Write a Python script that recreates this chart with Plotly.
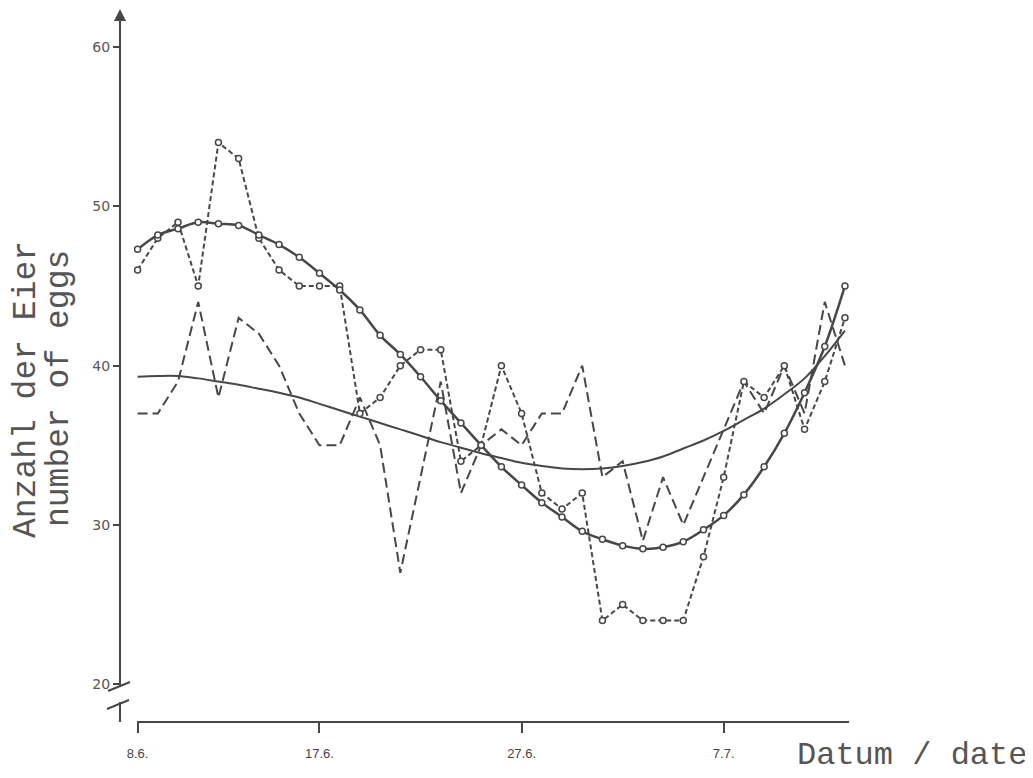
import plotly.graph_objects as go

# days since 8 June
days = list(range(36))

# observed egg numbers, series A (short dashes with circles)
eggs_a = [46, 48, 49, 45, 54, 53, 48, 46, 45, 45, 45, 37, 38, 40, 41, 41, 34, 35,
          40, 37, 32, 31, 32, 24, 25, 24, 24, 24, 28, 33, 39, 38, 40, 36, 39, 43]

# observed egg numbers, series B (long dashes)
eggs_b = [37, 37, 39, 44, 38, 43, 42, 40, 37, 35, 35, 38, 35, 27, 33, 39, 32, 35,
          36, 35, 37, 37, 40, 33, 34, 29, 33, 30, 33, 36, 39, 37, 40, 37, 44, 40]

# fitted curve for A (solid with circles)
fit_a = [47.3, 48.2, 48.6, 49.0, 48.9, 48.8, 48.2, 47.6, 46.8, 45.8, 44.75, 43.5,
         41.9, 40.7, 39.3, 37.8, 36.4, 35.0, 33.65, 32.5, 31.4, 30.5, 29.6, 29.1,
         28.7, 28.5, 28.6, 28.95, 29.7, 30.6, 31.9, 33.65, 35.75, 38.3, 41.2, 45.0]

# fitted curve for B (thin solid)
fit_b = [39.3, 39.35, 39.35, 39.2, 39.0, 38.8, 38.55, 38.3, 38.0, 37.6, 37.2, 36.8,
         36.4, 36.0, 35.6, 35.2, 34.85, 34.5, 34.2, 33.9, 33.7, 33.55, 33.5, 33.55,
         33.7, 33.95, 34.3, 34.8, 35.3, 35.9, 36.6, 37.3, 38.2, 39.2, 40.6, 42.2]

x_tick_vals = [0, 9, 19, 29]
x_tick_text = ["8.6.", "17.6.", "27.6.", "7.7."]
y_tick_vals = [20, 30, 40, 50, 60]
y_tick_text = ["20", "30", "40", "50", "60"]

INK = "#474747"
TEXT = "#555555"

OFF = 8  # page body margin
W, H = 1025, 770
# plot area in figure pixels
L, R, T, B = 120 - OFF, 849 - OFF, 8 - OFF, 722 - OFF


def px(xr):
    """reference-picture x pixel -> paper x"""
    return (xr - OFF - L) / (R - L)


def py(yr):
    """reference-picture y pixel -> paper y"""
    return (B - (yr - OFF)) / (B - T)


fig = go.Figure()

fig.add_trace(go.Scatter(
    x=days, y=fit_b, mode="lines", line=dict(color=INK, width=2, shape="spline"),
    showlegend=False, hoverinfo="skip"))

fig.add_trace(go.Scatter(
    x=days, y=eggs_b, mode="lines", line=dict(color=INK, width=2, dash="10px,5px"),
    showlegend=False))

fig.add_trace(go.Scatter(
    x=days, y=eggs_a, mode="lines+markers",
    line=dict(color=INK, width=2, dash="5px,3px"),
    marker=dict(symbol="circle", size=6, color="white", line=dict(color=INK, width=1.5)),
    showlegend=False))

fig.add_trace(go.Scatter(
    x=days, y=fit_a, mode="lines+markers",
    line=dict(color=INK, width=2.5, shape="spline"),
    marker=dict(symbol="circle", size=6, color="white", line=dict(color=INK, width=1.5)),
    showlegend=False))

shapes = [
    # x axis line
    dict(type="line", xref="paper", yref="paper", x0=px(137), x1=px(849), y0=0, y1=0,
         line=dict(color=INK, width=2)),
    # y axis line (with break)
    dict(type="line", xref="paper", yref="paper", x0=0, x1=0, y0=py(16), y1=py(687),
         line=dict(color=INK, width=2)),
    dict(type="line", xref="paper", yref="paper", x0=0, x1=0, y0=py(702), y1=py(722),
         line=dict(color=INK, width=2)),
    # break marks
    dict(type="line", xref="paper", yref="paper", x0=px(108), x1=px(130), y0=py(691), y1=py(682),
         line=dict(color=INK, width=2)),
    dict(type="line", xref="paper", yref="paper", x0=px(107), x1=px(129), y0=py(709), y1=py(700),
         line=dict(color=INK, width=2)),
]

MONO = "Liberation Mono, Courier New, monospace"
annotations = [
    # arrow at top of y axis
    dict(xref="paper", yref="paper", x=0, y=py(8), ax=0, ay=20, axref="pixel", ayref="pixel",
         showarrow=True, arrowhead=2, arrowsize=1.2, arrowwidth=2, arrowcolor=INK, text=""),
    dict(xref="paper", yref="paper", x=px(26), y=py(390), text="Anzahl der Eier",
         textangle=-90, showarrow=False, xanchor="center", yanchor="middle",
         font=dict(family=MONO, size=33, color=TEXT)),
    dict(xref="paper", yref="paper", x=px(59), y=py(389), text="number of eggs",
         textangle=-90, showarrow=False, xanchor="center", yanchor="middle",
         font=dict(family=MONO, size=33, color=TEXT)),
    dict(xref="paper", yref="paper", x=px(1028), y=py(755), text="Datum / date",
         showarrow=False, xanchor="right", yanchor="middle", borderpad=0,
         font=dict(family=MONO, size=32, color=TEXT)),
]

fig.update_layout(
    width=W, height=H,
    margin=dict(l=L, r=W - R, t=T, b=H - B, pad=0),
    paper_bgcolor="white", plot_bgcolor="white",
    shapes=shapes, annotations=annotations,
    xaxis=dict(range=[-0.87, 35.2], tickvals=x_tick_vals, ticktext=x_tick_text,
               showgrid=False, zeroline=False, showline=False,
               ticks="outside", ticklen=10, tickwidth=2, tickcolor=INK,
               tickfont=dict(family="Liberation Sans Narrow, Liberation Sans, sans-serif",
                             size=13, color="#444444"),
               ticklabelstandoff=9),
    yaxis=dict(range=[17.63, 62.45], tickvals=y_tick_vals, ticktext=y_tick_text,
               showgrid=False, zeroline=False, showline=False,
               ticks="outside", ticklen=6, tickwidth=2, tickcolor=INK,
               tickfont=dict(family="DejaVu Sans, sans-serif", size=14, color=TEXT),
               ticklabelstandoff=0),
)

fig.write_html("out.html")
